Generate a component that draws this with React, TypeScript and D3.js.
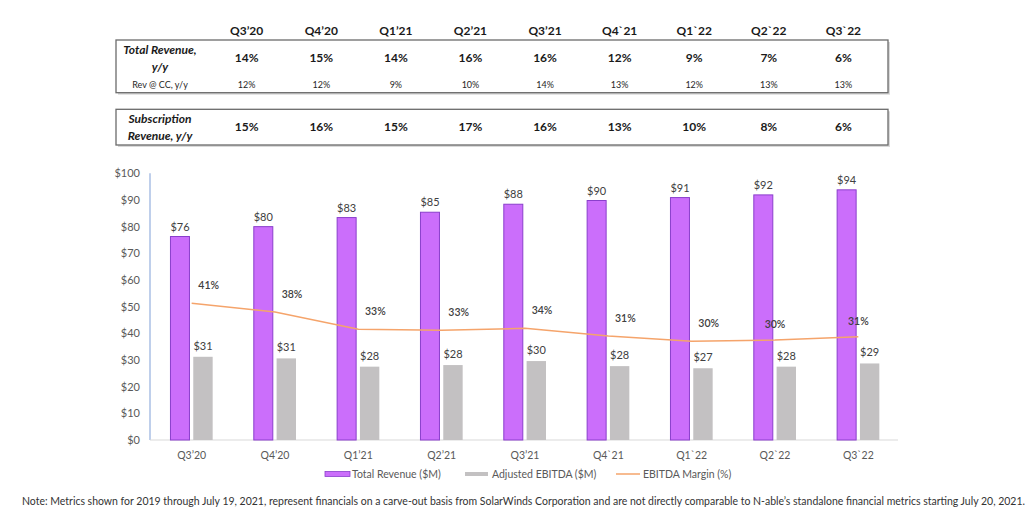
import React from 'react';
import * as d3 from 'd3';

const quarters = ["Q3’20", "Q4’20", "Q1’21", "Q2’21", "Q3’21", "Q4`21", "Q1`22", "Q2`22", "Q3`22"];
const totalRevenueYoY = [14, 15, 14, 16, 16, 12, 9, 7, 6];
const revCCYoY = [12, 12, 9, 10, 14, 13, 12, 13, 13];
const subscriptionYoY = [15, 16, 15, 17, 16, 13, 10, 8, 6];
const totalRevenue = [76.3, 80.0, 83.4, 85.4, 88.4, 89.8, 90.9, 91.9, 93.8];
const adjEbitda = [31.2, 30.6, 27.5, 28.1, 29.6, 27.7, 26.9, 27.5, 28.7];
const ebitdaMargin = [41.0, 38.4, 33.2, 32.9, 33.5, 31.2, 29.6, 30.0, 31.0];
const marginLabelPlacement = ["right", "right", "right", "right", "right", "right", "right", "above", "above"];
const yTicks = [0, 10, 20, 30, 40, 50, 60, 70, 80, 90, 100];
const legendItems = ["Total Revenue ($M)", "Adjusted EBITDA ($M)", "EBITDA Margin (%)"];
const noteText = "Note: Metrics shown for 2019 through July 19, 2021, represent financials on a carve-out basis from SolarWinds Corporation and are not directly comparable to N-able’s standalone financial metrics starting July 20, 2021.";

const FONT = "Lato, 'Open Sans', sans-serif";
const PURPLE = "#CB6EFB";
const PURPLE_STROKE = "#8A3FCC";
const GRAY = "#C3C1C2";
const ORANGE = "#F5A46B";
const TEXT = "#404040";

export default function App() {
  const x = d3.scaleBand<string>().domain(quarters).range([150, 900]).paddingInner(0);
  const cx = (q: string) => (x(q) as number) + x.bandwidth() / 2;
  const y = d3.scaleLinear().domain([0, 100]).range([440, 173.3]);
  const y2 = d3.scaleLinear().domain([0, 80]).range([440, 173.3]);
  const tx = d3.scaleBand<string>().domain(quarters).range([209.4, 880.7]);
  const tcx = (q: string) => (tx(q) as number) + tx.bandwidth() / 2;
  const money = (v: number) => "$" + Math.round(v);
  const pct = (v: number) => Math.round(v) + "%";

  const linePath = d3.line<number>()
    .x((_, i) => cx(quarters[i]))
    .y((d) => y2(d))(ebitdaMargin) as string;

  const barW = 19;

  return (
    <svg width={1035} height={523} style={{ position: 'absolute', left: 0, top: 0, background: '#fff' }} fontFamily={FONT}>
      {/* Table header */}
      {quarters.map((q) => (
        <text key={'h' + q} x={tcx(q)} y={35} textAnchor="middle" fontSize={12} fontWeight={700} fill="#1a1a1a">{q}</text>
      ))}
      {/* Box 1 */}
      <rect x={118} y={42} width={772} height={52.7} fill="#d9d9d9" />
      <rect x={116} y={40} width={772} height={52.7} fill="#fff" stroke="#6b6b6b" strokeWidth={1.3} />
      <text x={160} y={53.5} textAnchor="middle" fontSize={12} fontWeight={700} fontStyle="italic" fill="#1a1a1a">Total Revenue,</text>
      <text x={160} y={71} textAnchor="middle" fontSize={12} fontWeight={700} fontStyle="italic" fill="#1a1a1a">y/y</text>
      <text x={160} y={88} textAnchor="middle" fontSize={9} fill="#262626">Rev @ CC, y/y</text>
      {quarters.map((q, i) => (
        <text key={'tr' + q} x={tcx(q)} y={62} textAnchor="middle" fontSize={12} fontWeight={700} fill="#1a1a1a">{pct(totalRevenueYoY[i])}</text>
      ))}
      {quarters.map((q, i) => (
        <text key={'cc' + q} x={tcx(q)} y={88} textAnchor="middle" fontSize={9} fill="#262626">{pct(revCCYoY[i])}</text>
      ))}
      {/* Box 2 */}
      <rect x={118} y={111.3} width={772} height={35.7} fill="#d9d9d9" />
      <rect x={116} y={109.3} width={772} height={35.7} fill="#fff" stroke="#6b6b6b" strokeWidth={1.3} />
      <text x={160} y={122.5} textAnchor="middle" fontSize={12} fontWeight={700} fontStyle="italic" fill="#1a1a1a">Subscription</text>
      <text x={160} y={139.5} textAnchor="middle" fontSize={12} fontWeight={700} fontStyle="italic" fill="#1a1a1a">Revenue, y/y</text>
      {quarters.map((q, i) => (
        <text key={'sr' + q} x={tcx(q)} y={131} textAnchor="middle" fontSize={12} fontWeight={700} fill="#1a1a1a">{pct(subscriptionYoY[i])}</text>
      ))}

      {/* Y axis */}
      <line x1={150} x2={150} y1={y(100)} y2={y(0)} stroke="#9DB5E0" strokeWidth={1.3} />
      {yTicks.map((t) => (
        <text key={'yt' + t} x={140} y={y(t) + 4} textAnchor="end" fontSize={11} fill="#595959">{"$" + t}</text>
      ))}
      {/* Baseline */}
      <line x1={150} x2={898} y1={y(0)} y2={y(0)} stroke="#D9D9D9" strokeWidth={1} />

      {/* Bars */}
      {quarters.map((q, i) => (
        <g key={'b' + q}>
          <rect x={cx(q) - 21.2} y={y(totalRevenue[i])} width={barW} height={y(0) - y(totalRevenue[i])} fill={PURPLE} stroke={PURPLE_STROKE} strokeWidth={1} />
          <rect x={cx(q) + 1.6} y={y(adjEbitda[i])} width={barW + 0.4} height={y(0) - y(adjEbitda[i])} fill={GRAY} />
          <text x={cx(q) - 11.7} y={y(totalRevenue[i]) - 6} textAnchor="middle" fontSize={11} fill={TEXT}>{money(totalRevenue[i])}</text>
          <text x={cx(q) + 11.3} y={y(adjEbitda[i]) - 7} textAnchor="middle" fontSize={11} fill={TEXT}>{money(adjEbitda[i])}</text>
        </g>
      ))}

      {/* Margin line */}
      <path d={linePath} fill="none" stroke={ORANGE} strokeWidth={1.5} />
      {quarters.map((q, i) => {
        const right = marginLabelPlacement[i] === 'right';
        return (
          <text key={'m' + q} x={cx(q) + (right ? 17 : 0)} y={y2(ebitdaMargin[i]) - (right ? 14 : 12)} textAnchor="middle" fontSize={10.5} fontWeight={600} fill={TEXT}>{pct(ebitdaMargin[i])}</text>
        );
      })}

      {/* X labels */}
      {quarters.map((q) => (
        <text key={'xl' + q} x={cx(q)} y={459} textAnchor="middle" fontSize={10.5} fill="#595959">{q}</text>
      ))}

      {/* Legend */}
      <rect x={325} y={471.5} width={25} height={5} fill={PURPLE} stroke={PURPLE_STROKE} strokeWidth={0.8} />
      <text x={352} y={478} fontSize={10.5} fill="#595959">{legendItems[0]}</text>
      <rect x={465} y={472} width={23} height={4} fill={GRAY} />
      <text x={492} y={478} fontSize={10.5} fill="#595959">{legendItems[1]}</text>
      <line x1={616} x2={640} y1={474} y2={474} stroke={ORANGE} strokeWidth={1.5} />
      <text x={643} y={478} fontSize={10.5} fill="#595959">{legendItems[2]}</text>

      {/* Note */}
      <text x={22} y={505} fontSize={10.5} fill="#333" textLength={1003} lengthAdjust="spacingAndGlyphs">{noteText}</text>
    </svg>
  );
}
